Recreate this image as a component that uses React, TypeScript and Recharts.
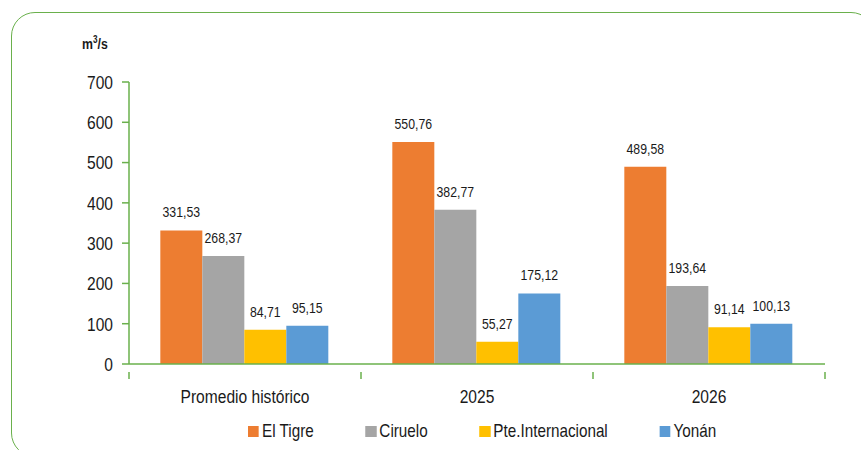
import React from 'react';
import { BarChart, Bar, XAxis, YAxis, LabelList } from 'recharts';

const categories = ['Promedio histórico', '2025', '2026'];
const elTigre = [331.53, 550.76, 489.58];
const ciruelo = [268.37, 382.77, 193.64];
const pteInternacional = [84.71, 55.27, 91.14];
const yonan = [95.15, 175.12, 100.13];
const yTicks = [0, 100, 200, 300, 400, 500, 600, 700];
const unitLabel = 'm';

const series = [
  { key: 'elTigre', name: 'El Tigre', color: '#ED7D31', values: elTigre },
  { key: 'ciruelo', name: 'Ciruelo', color: '#A5A5A5', values: ciruelo },
  { key: 'pte', name: 'Pte.Internacional', color: '#FFC000', values: pteInternacional },
  { key: 'yonan', name: 'Yonán', color: '#5B9BD5', values: yonan },
];

const data = categories.map((c, i) => {
  const row: any = { name: c };
  series.forEach((s) => (row[s.key] = s.values[i]));
  return row;
});

const FONT = "'Liberation Sans', Arial, sans-serif";
const GREEN = '#6AB04C';
const TXT = '#1a1a1a';
const SX = 0.82;

const fmt = (v: any) => Number(v).toFixed(2).replace('.', ',');

const XTick = (props: any) => {
  const { x, y, payload, index, visibleTicksCount, width } = props;
  const half = payload && payload.offset ? payload.offset : width / visibleTicksCount / 2;
  return (
    <g>
      <line x1={x - half} x2={x - half} y1={y} y2={y + 7} stroke={GREEN} strokeWidth={1.5} />
      {index === visibleTicksCount - 1 && (
        <line x1={x + half} x2={x + half} y1={y} y2={y + 7} stroke={GREEN} strokeWidth={1.5} />
      )}
      <text
        transform={`translate(${x},${y + 31}) scale(${SX},1)`}
        textAnchor="middle"
        fontFamily={FONT}
        fontSize={19}
        fill={TXT}
      >
        {payload.value}
      </text>
    </g>
  );
};

const YTick = (props: any) => {
  const { x, y, payload } = props;
  return (
    <text
      transform={`translate(${x},${y}) scale(${SX},1)`}
      textAnchor="end"
      dy="0.36em"
      fontFamily={FONT}
      fontSize={19}
      fill={TXT}
    >
      {payload.value}
    </text>
  );
};

const BarLabel = (props: any) => {
  const { x, y, width, value } = props;
  return (
    <text
      transform={`translate(${Number(x) + Number(width) / 2},${Number(y) - 13}) scale(${SX},1)`}
      textAnchor="middle"
      fontFamily={FONT}
      fontSize={15}
      fill={TXT}
    >
      {fmt(value)}
    </text>
  );
};

export default function App() {
  return (
    <div style={{ position: 'absolute', left: 0, top: 0, width: 861, height: 450, overflow: 'hidden', background: '#fff' }}>
      <div
        style={{
          position: 'absolute',
          left: 11,
          top: 12,
          width: 864,
          height: 445,
          border: `1.5px solid ${GREEN}`,
          borderRadius: 24,
          boxSizing: 'border-box',
        }}
      />
      <div
        style={{
          position: 'absolute',
          left: 82,
          top: 34,
          fontFamily: FONT,
          fontWeight: 'bold',
          fontSize: 15,
          color: TXT,
          transform: `scaleX(${SX})`,
          transformOrigin: 'left center',
        }}
      >
        {unitLabel}
        <sup style={{ fontSize: 10 }}>3</sup>/s
      </div>
      <div style={{ position: 'absolute', left: 0, top: 0 }}>
        <BarChart
          width={861}
          height={450}
          data={data}
          margin={{ top: 82, right: 36, left: 0, bottom: 46 }}
          barCategoryGap="13.5%"
          barGap={0}
        >
          <XAxis
            dataKey="name"
            axisLine={{ stroke: GREEN, strokeWidth: 1.5 }}
            tickLine={false}
            tick={<XTick />}
            height={40}
            interval={0}
          />
          <YAxis
            domain={[0, 700]}
            ticks={yTicks}
            width={129}
            axisLine={{ stroke: GREEN, strokeWidth: 1.5 }}
            tickLine={{ stroke: GREEN, strokeWidth: 1.5 }}
            tickSize={7}
            tickMargin={9}
            tick={<YTick />}
          />
          {series.map((s) => (
            <Bar key={s.key} dataKey={s.key} name={s.name} fill={s.color} isAnimationActive={false}>
              <LabelList dataKey={s.key} content={<BarLabel />} />
            </Bar>
          ))}
        </BarChart>
      </div>
      <div
        style={{
          position: 'absolute',
          left: 248,
          top: 420,
          display: 'flex',
          alignItems: 'center',
          gap: 63,
          fontFamily: FONT,
          fontSize: 18.6,
          color: TXT,
          whiteSpace: 'nowrap',
          transform: `scaleX(${SX})`,
          transformOrigin: 'left center',
        }}
      >
        {series.map((s) => (
          <div key={s.key} style={{ display: 'flex', alignItems: 'center' }}>
            <span style={{ display: 'inline-block', width: 13.4, height: 11, background: s.color, marginRight: 3.7 }} />
            <span>{s.name}</span>
          </div>
        ))}
      </div>
    </div>
  );
}
